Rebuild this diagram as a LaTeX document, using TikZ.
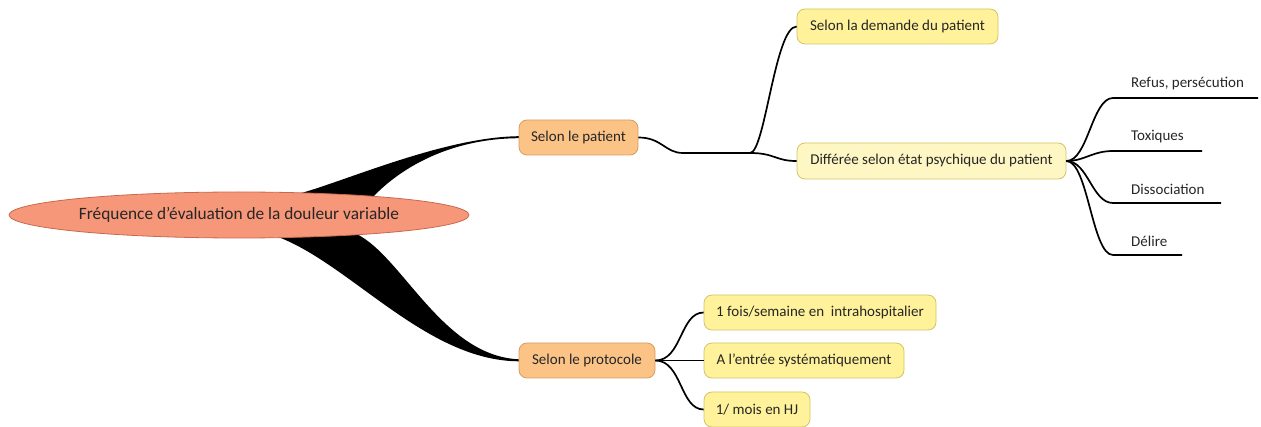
\documentclass[tikz,border=0pt]{standalone}
\usepackage{fontspec}
\setmainfont{Carlito}
\usetikzlibrary{shapes.geometric}
\definecolor{rootfill}{HTML}{F6977A}
\definecolor{rootline}{HTML}{C8694E}
\definecolor{orfill}{HTML}{FCC387}
\definecolor{orline}{HTML}{D79C5E}
\definecolor{yefill}{HTML}{FFF29A}
\definecolor{yeline}{HTML}{D2C465}
\definecolor{palefill}{HTML}{FEF7C4}
\definecolor{txt}{HTML}{262626}
\begin{document}
\begin{tikzpicture}[x=1pt,y=-1pt,
  font=\fontsize{15}{18}\selectfont, text=txt,
  rootnode/.style={ellipse, draw=rootline, fill=rootfill, line width=0.8pt,
    minimum width=460pt, minimum height=46pt, inner sep=0pt,
    font=\fontsize{17.3}{20}\selectfont},
  topicbox/.style={rounded corners=8pt, draw=orline, fill=orfill, line width=0.8pt,
    minimum height=35pt, inner sep=0pt},
  subbox/.style={rounded corners=8pt, draw=yeline, fill=yefill, line width=0.8pt,
    minimum height=35pt, inner sep=0pt},
  leaftext/.style={anchor=south west, inner sep=0pt},
  link/.style={line width=1.7pt, black}]
\useasboundingbox (0,0) rectangle (1261,427);

% tapered main branches (drawn below the central ellipse)
\fill[black] (290,196) .. controls (335,186) and (440,137) .. (519,136.2)
  -- (519,138.2) .. controls (450,138.5) and (400,168) .. (372,198) -- cycle;
\fill[black] (262,232) .. controls (340,250) and (420,361) .. (519,361.3)
  -- (519,359.3) .. controls (440,356) and (400,250) .. (352,232) -- cycle;

% central topic
\node[rootnode] (root) at (239,215) {Fréquence d'évaluation de la douleur variable};

% main topics
\node[topicbox, minimum width=119pt] (pat) at (578.5,137.5) {Selon le patient};
\node[topicbox, minimum width=136pt] (prot) at (587,360.5) {Selon le protocole};

% subtopics
\node[subbox, minimum width=201pt] (dem) at (897.5,26.5) {Selon la demande du patient};
\node[subbox, fill=palefill, minimum width=269pt, minimum height=36pt] (dif) at (931.5,161) {Différée selon état psychique du patient};
\node[subbox, minimum width=232pt] (f1) at (820,312.5) {1 fois/semaine en\ \ intrahospitalier};
\node[subbox, minimum width=200pt] (f2) at (804,360.5) {A l'entrée systématiquement};
\node[subbox, minimum width=106pt] (f3) at (757,409.5) {1/ mois en HJ};

% leaves with underlines
\coordinate (j) at (750,153);
\coordinate (r1) at (1113,98);   \coordinate (r1e) at (1258,98);
\coordinate (r2) at (1113,151);  \coordinate (r2e) at (1202,151);
\coordinate (r3) at (1113,203);  \coordinate (r3e) at (1221,203);
\coordinate (r4) at (1113,255);  \coordinate (r4e) at (1182,255);
\node[leaftext] (l1) at (1131,90) {Refus, persécution};
\node[leaftext] (l2) at (1131,143) {Toxiques};
\node[leaftext] (l3) at (1131,195) {Dissociation};
\node[leaftext] (l4) at (1131,247) {Délire};

% connectors
\draw[link] (pat.east) .. controls (662,137.5) and (665,153) .. (683,153) -- (j);
\draw[link] (j) .. controls (765,153) and (775,26.5) .. (dem.west);
\draw[link] (j) .. controls (775,153) and (775,161) .. (dif.west);

\draw[link] (dif.east) .. controls (1088,161) and (1092,98) .. (r1) -- (r1e);
\draw[link] (dif.east) .. controls (1085,161) and (1092,151) .. (r2) -- (r2e);
\draw[link] (dif.east) .. controls (1088,161) and (1092,203) .. (r3) -- (r3e);
\draw[link] (dif.east) .. controls (1088,161) and (1092,255) .. (r4) -- (r4e);

\draw[link] (prot.east) .. controls (682,360.5) and (680,312.5) .. (f1.west);
\draw[link] (prot.east) -- (f2.west);
\draw[link] (prot.east) .. controls (682,360.5) and (680,409.5) .. (f3.west);
\end{tikzpicture}
\end{document}
